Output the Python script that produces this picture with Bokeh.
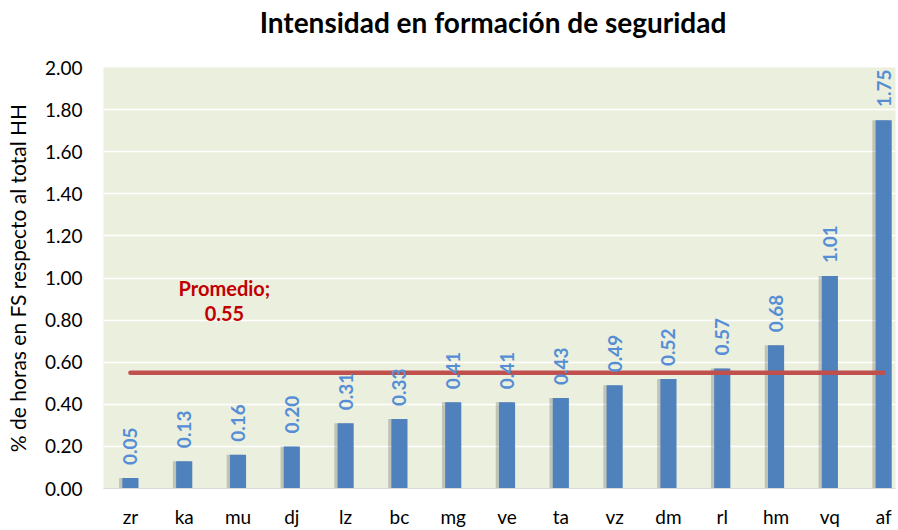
from bokeh.plotting import figure
from bokeh.models import ColumnDataSource, Range1d, FixedTicker, Label, NumeralTickFormatter, Div
from bokeh.layouts import column
from bokeh.transform import dodge
from bokeh.embed import file_html
from bokeh.resources import INLINE
from bokeh.core.properties import value

categories = ["zr", "ka", "mu", "dj", "lz", "bc", "mg", "ve", "ta", "vz", "dm", "rl", "hm", "vq", "af"]
values = [0.05, 0.13, 0.16, 0.20, 0.31, 0.33, 0.41, 0.41, 0.43, 0.49, 0.52, 0.57, 0.68, 1.01, 1.75]
average = 0.55
y_ticks = [0.0, 0.2, 0.4, 0.6, 0.8, 1.0, 1.2, 1.4, 1.6, 1.8, 2.0]
title_text = "Intensidad en formación de seguridad"
y_label = "% de horas en FS respecto al total HH"

FONT = "Lato"
xs = list(range(len(categories)))
src = ColumnDataSource(dict(
    x=xs, v=values, lab=["%.2f" % v for v in values], avg=[average] * len(xs)))

title = Div(text=title_text, width=898, height=34,
            styles={"font-family": FONT, "font-size": "28px", "font-weight": "bold",
                    "color": "#000000", "text-align": "center", "line-height": "34px",
                    "padding-left": "78px", "box-sizing": "border-box", "width": "898px",
                    "white-space": "nowrap"})

p = figure(width=898, height=486, output_backend="svg", toolbar_location=None,
           x_range=Range1d(-0.5, 14.22), y_range=Range1d(0, 2.0),
           min_border_left=103, min_border_right=3, min_border_top=23, min_border_bottom=42)

p.background_fill_color = "#EBEFDE"
p.border_fill_color = "white"
p.outline_line_color = None

p.xgrid.grid_line_color = None
p.ygrid.grid_line_color = "white"
p.ygrid.grid_line_width = 1.5
p.ygrid.ticker = FixedTicker(ticks=y_ticks)

# bar shadows
p.vbar(x=dodge("x", -0.06, range=p.x_range), top="v", width=0.3, source=src,
       fill_color="#000000", fill_alpha=0.18, line_color=None)
p.vbar(x="x", top="v", width=0.3, source=src, fill_color="#4F81BD", line_color=None)

p.line(x="x", y="avg", source=src, line_color="#C0504D", line_width=4.5, line_cap="round")

p.text(x="x", y="v", text="lab", source=src, angle=1.5708,
       text_align="left", text_baseline="middle", y_offset=-13,
       text_color="#558ED5", text_font=value(FONT), text_font_size="19px",
       text_font_style="bold")

p.add_layout(Label(x=0, y=average, x_offset=94, y_offset=85, text="Promedio;",
                   text_align="center", text_baseline="middle", text_color="#C00000",
                   text_font=FONT, text_font_size="20px", text_font_style="bold"))
p.add_layout(Label(x=0, y=average, x_offset=94, y_offset=59, text="%.2f" % average,
                   text_align="center", text_baseline="middle", text_color="#C00000",
                   text_font=FONT, text_font_size="20px", text_font_style="bold"))

p.yaxis.ticker = FixedTicker(ticks=y_ticks)
p.yaxis.formatter = NumeralTickFormatter(format="0.00")
p.yaxis.axis_line_color = None
p.yaxis.major_tick_line_color = None
p.yaxis.minor_tick_line_color = None
p.yaxis.major_tick_out = 0
p.yaxis.major_tick_in = 0
p.yaxis.minor_tick_out = 0
p.yaxis.major_label_standoff = 21
p.yaxis.major_label_text_font = FONT
p.yaxis.major_label_text_font_size = "19px"
p.yaxis.major_label_text_color = "#000000"
p.yaxis.axis_label = y_label
p.yaxis.axis_label_text_font = FONT
p.yaxis.axis_label_text_font_size = "21px"
p.yaxis.axis_label_text_font_style = "normal"
p.yaxis.axis_label_text_color = "#000000"
p.yaxis.axis_label_standoff = 12

p.xaxis.ticker = FixedTicker(ticks=xs)
p.xaxis.major_label_overrides = {i: c for i, c in zip(xs, categories)}
p.xaxis.axis_line_color = "#D9D9D9"
p.xaxis.major_tick_line_color = None
p.xaxis.minor_tick_line_color = None
p.xaxis.major_tick_out = 0
p.xaxis.major_tick_in = 0
p.xaxis.minor_tick_out = 0
p.xaxis.major_label_standoff = 16
p.xaxis.major_label_text_font = FONT
p.xaxis.major_label_text_font_size = "19px"
p.xaxis.major_label_text_color = "#000000"

layout = column(title, p, spacing=0)
open("out.html", "w").write(file_html(layout, INLINE))
